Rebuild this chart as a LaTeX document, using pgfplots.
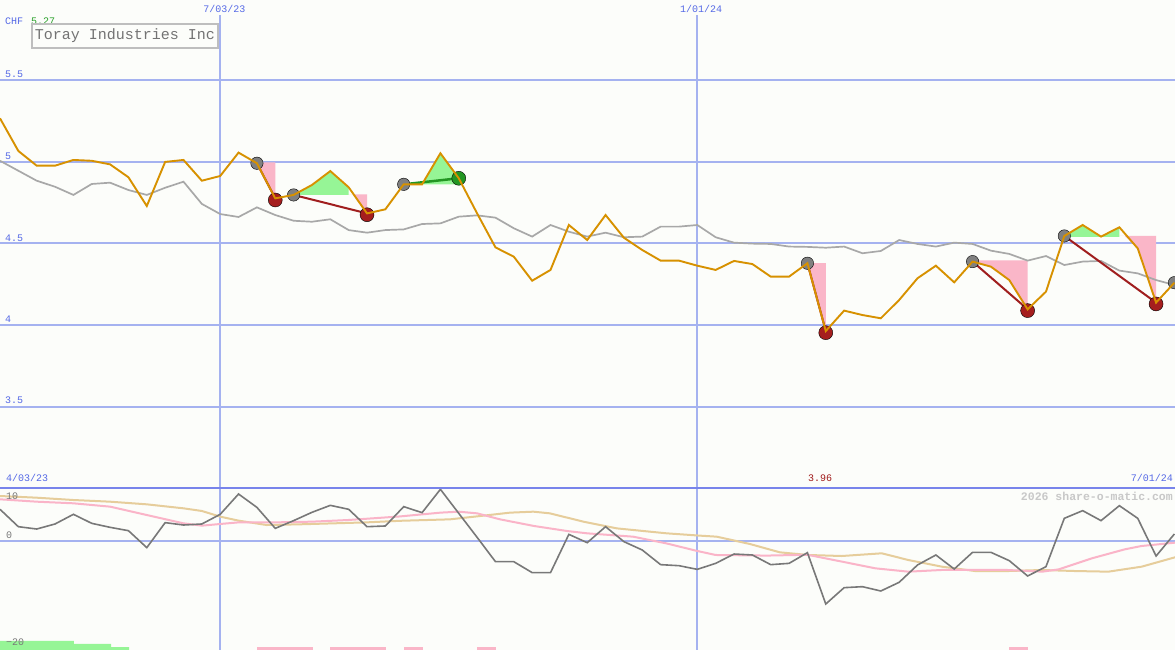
\documentclass[border=0pt]{standalone}
\usepackage{fontspec}
\setmainfont{Liberation Mono}
\usepackage{pgfplots}
\pgfplotsset{compat=1.18}
\definecolor{bgc}{RGB}{252,253,250}
\definecolor{gridblue}{RGB}{165,178,240}
\definecolor{sepblue}{RGB}{120,132,235}
\definecolor{textblue}{RGB}{85,105,230}
\definecolor{orangeln}{RGB}{215,145,0}
\definecolor{maline}{RGB}{168,168,168}
\definecolor{pinkf}{RGB}{250,182,200}
\definecolor{greenf}{RGB}{150,245,150}
\definecolor{tradered}{RGB}{160,30,30}
\definecolor{circgrey}{RGB}{128,128,128}
\definecolor{circred}{RGB}{165,30,30}
\definecolor{circgreen}{RGB}{35,150,35}
\definecolor{oscgrey}{RGB}{120,120,120}
\definecolor{oscpink}{RGB}{250,180,200}
\definecolor{osctan}{RGB}{230,205,155}
\definecolor{boxgrey}{RGB}{190,190,190}
\definecolor{txtgrey}{RGB}{115,115,115}
\definecolor{wmgrey}{RGB}{200,200,200}
\definecolor{darkred}{RGB}{160,25,25}
\definecolor{labgreen}{RGB}{40,160,40}

\pgfplotstableread{
i v
0 5.265
1 5.065
2 4.975
3 4.975
4 5.01
5 5.005
6 4.983
7 4.904
8 4.728
9 4.998
10 5.01
11 4.883
12 4.912
13 5.055
14 4.99
15 4.775
16 4.796
17 4.857
18 4.942
19 4.843
20 4.683
21 4.708
22 4.861
23 4.861
24 5.051
25 4.898
26 4.683
27 4.475
28 4.418
29 4.271
30 4.337
31 4.612
32 4.520
33 4.673
34 4.534
35 4.459
36 4.394
37 4.394
38 4.363
39 4.337
40 4.392
41 4.373
42 4.296
43 4.296
44 4.378
45 3.963
46 4.088
47 4.061
48 4.041
49 4.153
50 4.286
51 4.363
52 4.261
53 4.388
54 4.357
55 4.275
56 4.096
57 4.204
58 4.545
59 4.612
60 4.541
61 4.598
62 4.469
63 4.137
64 4.259
}\price

\pgfplotstableread{
i v
0 5.005
1 4.944
2 4.883
3 4.846
4 4.796
5 4.863
6 4.871
7 4.826
8 4.796
9 4.840
10 4.877
11 4.741
12 4.679
13 4.661
14 4.720
15 4.673
16 4.638
17 4.632
18 4.647
19 4.581
20 4.565
21 4.581
22 4.585
23 4.618
24 4.622
25 4.663
26 4.671
27 4.657
28 4.592
29 4.541
30 4.612
31 4.571
32 4.541
33 4.565
34 4.537
35 4.541
36 4.602
37 4.602
38 4.612
39 4.537
40 4.504
41 4.498
42 4.496
43 4.480
44 4.478
45 4.473
46 4.480
47 4.439
48 4.453
49 4.520
50 4.496
51 4.480
52 4.504
53 4.496
54 4.455
55 4.435
56 4.394
57 4.422
58 4.367
59 4.388
60 4.392
61 4.333
62 4.316
63 4.275
64 4.245
}\mavg

\pgfplotstableread{
i v
0 5.87
1 2.65
2 2.22
3 3.15
4 4.94
5 3.27
6 2.53
7 1.91
8 -1.23
9 3.40
10 2.96
11 3.15
12 4.94
13 8.70
14 6.23
15 2.34
16 3.77
17 5.31
18 6.60
19 5.87
20 2.65
21 2.78
22 6.36
23 5.25
24 9.57
25 5.12
26 0.68
27 -3.83
28 -3.83
29 -5.86
30 -5.86
31 1.23
32 -0.31
33 2.65
34 -0.12
35 -1.67
36 -4.38
37 -4.57
38 -5.25
39 -4.14
40 -2.41
41 -2.59
42 -4.38
43 -4.14
44 -2.16
45 -11.67
46 -8.64
47 -8.46
48 -9.26
49 -7.65
50 -4.44
51 -2.59
52 -5.19
53 -2.10
54 -2.10
55 -3.64
56 -6.48
57 -4.75
58 4.20
59 5.62
60 3.77
61 6.54
62 4.20
63 -2.78
64 1.30
}\osc

\begin{document}
\begin{tikzpicture}[x=1pt,y=1pt]
\fill[bgc] (0,0) rectangle (1175,650);
\useasboundingbox (0,0) rectangle (1175,650);

\begin{axis}[
  at={(0pt,162pt)}, anchor=south west,
  width=1175pt, height=473pt, scale only axis,
  xmin=0, xmax=64.03, ymin=3.0025, ymax=5.8972,
  axis line style={draw=none}, tick style={draw=none},
  xtick={12,38}, xticklabels={}, ytick={3.5,4,4.5,5,5.5}, yticklabels={},
  xmajorgrids, ymajorgrids, major grid style={gridblue, line width=2pt},
  clip marker paths=true,
]
% shaded trade areas
\addplot[fill=pinkf, draw=none] coordinates {(14,4.996) (15,4.996) (15,4.775)};
\addplot[fill=greenf, draw=none] coordinates {(16,4.796) (17,4.857) (18,4.942) (19,4.843) (19,4.796)};
\addplot[fill=pinkf, draw=none] coordinates {(19,4.80) (20,4.80) (20,4.683) (19.25,4.80)};
\addplot[fill=greenf, draw=none] coordinates {(23,4.861) (24,5.051) (25,4.898) (25,4.861)};
\addplot[fill=pinkf, draw=none] coordinates {(44,4.378) (45,4.378) (45,3.963)};
\addplot[fill=pinkf, draw=none] coordinates {(53,4.395) (56,4.395) (56,4.096) (55,4.275) (54,4.357)};
\addplot[fill=greenf, draw=none] coordinates {(58,4.54) (59,4.612) (60,4.541) (61,4.598) (61,4.54)};
\addplot[fill=pinkf, draw=none] coordinates {(61,4.545) (63,4.545) (63,4.137) (62,4.469) (61.3,4.545)};
% moving average
\addplot[maline, line width=1.7pt] table[x=i,y=v] {\mavg};
% trade lines
\addplot[tradered, line width=2pt] coordinates {(14,4.99) (15,4.775)};
\addplot[tradered, line width=2pt] coordinates {(16,4.796) (20,4.683)};
\addplot[tradered, line width=2pt] coordinates {(44,4.378) (45,3.963)};
\addplot[tradered, line width=2pt] coordinates {(53,4.388) (56,4.096)};
\addplot[tradered, line width=2pt] coordinates {(58,4.545) (63,4.137)};
\addplot[circgreen, line width=2.5pt] coordinates {(22,4.861) (25,4.898)};
% markers
\addplot[only marks, mark=*, mark size=6.2pt, mark options={fill=circgrey, draw=none}]
  coordinates {(14,4.99) (16,4.796) (22,4.861) (44,4.378) (53,4.388) (58,4.545) (64,4.259)};
\addplot[only marks, mark=*, mark size=7pt, mark options={fill=circred, draw=none}]
  coordinates {(15,4.765) (20,4.675) (45,3.953) (56,4.088) (63,4.129)};
\addplot[only marks, mark=*, mark size=7pt, mark options={fill=circgreen, draw=none}]
  coordinates {(25,4.898)};
% price
\addplot[orangeln, line width=1.9pt] table[x=i,y=v] {\price};
\end{axis}

\begin{axis}[
  at={(0pt,0pt)}, anchor=south west,
  width=1175pt, height=162pt, scale only axis,
  xmin=0, xmax=64.03, ymin=-20.185, ymax=9.815,
  axis line style={draw=none}, tick style={draw=none},
  xtick={12,38}, xticklabels={}, ytick={0}, yticklabels={},
  xmajorgrids, ymajorgrids, major grid style={gridblue, line width=2pt},
]
\addplot[fill=greenf, draw=none] coordinates {(0,-21) (0,-18.5) (4.03,-18.5) (4.03,-19.07) (6.05,-19.07) (6.05,-19.63) (7.03,-19.63) (7.03,-21)};
\addplot[fill=pinkf, draw=none] coordinates {(14.02,-21) (14.02,-19.63) (17.04,-19.63) (17.04,-21)};
\addplot[fill=pinkf, draw=none] coordinates {(18,-21) (18,-19.63) (21.04,-19.63) (21.04,-21)};
\addplot[fill=pinkf, draw=none] coordinates {(22,-21) (22,-19.63) (23.03,-19.63) (23.03,-21)};
\addplot[fill=pinkf, draw=none] coordinates {(26,-21) (26,-19.63) (27.03,-19.63) (27.03,-21)};
\addplot[fill=pinkf, draw=none] coordinates {(55,-21) (55,-19.63) (56,-19.63) (56,-21)};
\addplot[osctan, line width=2pt] coordinates {(0,8.33) (2,8.02) (4,7.59) (6,7.28) (8,6.79) (10,6.05) (11,5.56) (12,4.51) (13,3.77) (14.53,2.96) (16.35,3.09) (18.17,3.27) (19.98,3.45) (21.8,3.74) (24.52,4.01) (26.34,4.69) (27.79,5.25) (29.07,5.43) (29.97,5.12) (31.79,3.58) (33.61,2.34) (36.33,1.42) (38.15,0.99) (39.06,0.80) (40.87,-0.56) (42.5,-2.1) (44.05,-2.59) (45.87,-2.78) (48.05,-2.28) (49.5,-3.52) (51.32,-4.75) (53.13,-5.56) (54.95,-5.56) (56.77,-5.37) (58.58,-5.56) (60.4,-5.68) (62.22,-4.75) (64.03,-3.02)};
\addplot[oscpink, line width=2pt] coordinates {(0,7.72) (2,7.28) (4,6.98) (6,6.36) (8,4.81) (10,3.27) (11,2.84) (12,3.15) (13,3.45) (15,3.45) (17,3.58) (19,3.89) (21.8,4.55) (24,5.25) (25,5.43) (26,5.12) (27.25,4.01) (29.1,2.78) (30.9,1.85) (32,1.42) (34.5,0.80) (36.3,-0.43) (38,-1.85) (39,-2.59) (41.8,-2.7) (44,-2.55) (45.9,-3.83) (47.7,-5.06) (49.5,-5.68) (51.3,-5.37) (53.1,-5.37) (54.9,-5.37) (56.8,-5.68) (57.7,-5.25) (59.5,-3.21) (61.3,-1.54) (62.2,-0.93) (64.03,-0.31)};
\addplot[oscgrey, line width=1.6pt] table[x=i,y=v] {\osc};
\draw[sepblue, line width=2.2pt] (rel axis cs:0,1) -- (rel axis cs:1,1);
\end{axis}

% texts
\tikzset{lab/.style={inner sep=0pt, font=\fontsize{10}{12}\selectfont}}
\node[lab, anchor=west, text=textblue] at (5,629) {CHF};
\node[lab, anchor=west, text=labgreen] at (31,629) {5.27};
\node[draw=boxgrey, line width=2pt, fill=bgc, minimum width=186pt, minimum height=24pt, inner sep=0pt, text=txtgrey, font=\fontsize{15}{15}\selectfont] at (125,614) {Toray Industries Inc};
\node[lab, text=textblue] at (224.5,641) {7/03/23};
\node[lab, text=textblue] at (701,641) {1/01/24};
\node[lab, anchor=south west, text=textblue] at (5,572) {5.5};
\node[lab, anchor=south west, text=textblue] at (5,490.5) {5};
\node[lab, anchor=south west, text=textblue] at (5,408.3) {4.5};
\node[lab, anchor=south west, text=textblue] at (5,327) {4};
\node[lab, anchor=south west, text=textblue] at (5,246) {3.5};
\node[lab, anchor=west, text=textblue] at (6,172) {4/03/23};
\node[lab, text=darkred] at (820,172) {3.96};
\node[lab, anchor=east, text=textblue] at (1173,172) {7/01/24};
\node[lab, anchor=east, text=wmgrey, font=\fontsize{11.5}{13}\selectfont\bfseries] at (1173,154) {2026 share-o-matic.com};
\node[lab, anchor=west, text=oscgrey] at (6,154) {10};
\node[lab, anchor=west, text=oscgrey] at (6,115) {0};
\node[lab, anchor=west, text=oscgrey] at (6,7.5) {−20};
\end{tikzpicture}
\end{document}
